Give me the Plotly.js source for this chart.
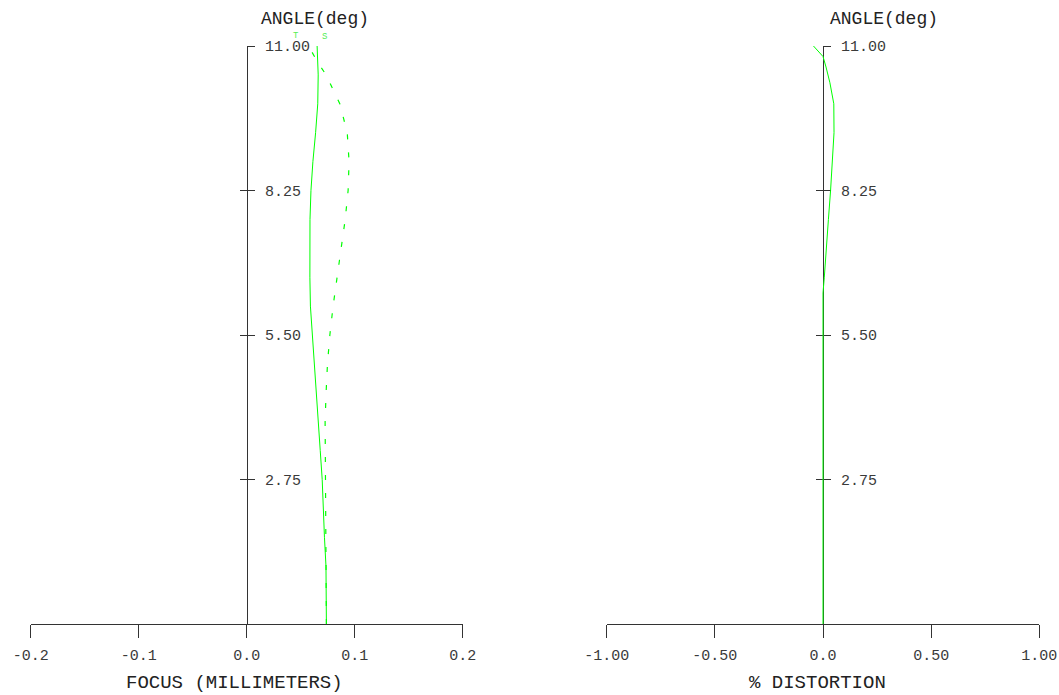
<!DOCTYPE html>
<html>
<head>
<meta charset="utf-8">
<script src="https://cdn.plot.ly/plotly-3.0.1.min.js"></script>
<style>
html,body{margin:0;padding:0;background:#fff;}
#chart{width:1059px;height:695px;}
</style>
</head>
<body>
<div id="chart"></div>
<script>
// Field angle samples (deg)
const angles = [0, 0.55, 1.1, 1.65, 2.2, 2.75, 3.3, 3.85, 4.4, 4.95, 5.5, 6.05, 6.6, 7.15, 7.7, 8.25, 8.8, 9.35, 9.9, 10.45, 10.7, 11];
// Tangential focus (mm)
const focusT = [0.0738, 0.0738, 0.0734, 0.0720, 0.0712, 0.0699, 0.0681, 0.0663, 0.0641, 0.0622, 0.0602, 0.0590, 0.0585, 0.0583, 0.0586, 0.0595, 0.0613, 0.0638, 0.0658, 0.0662, 0.0659, 0.0652];
// Sagittal focus (mm)
const focusS = [0.0738, 0.0736, 0.0733, 0.0729, 0.0725, 0.0724, 0.0724, 0.0726, 0.0735, 0.0748, 0.0770, 0.0800, 0.0837, 0.0878, 0.0912, 0.0939, 0.0948, 0.0931, 0.0862, 0.0735, 0.0655, 0.0572];
// Distortion (%)
const distAngles = [0, 0.55, 1.0, 1.1, 2.2, 3.3, 4.4, 5.5, 6.0, 6.3, 6.6, 7.15, 7.7, 8.25, 8.8, 9.35, 9.9, 10.3, 10.6, 10.8, 11];
const distortion = [0.000, 0.000, 0.000, 0.003, 0.003, 0.003, 0.003, 0.003, 0.002, 0.000, 0.006, 0.017, 0.025, 0.035, 0.044, 0.051, 0.050, 0.032, 0.014, 0.000, -0.044];

const yTickVals = [2.75, 5.5, 8.25, 11];
const yTickText = ['2.75', '5.50', '8.25', '11.00'];
const focusTickVals = [-0.2, -0.1, 0, 0.1, 0.2];
const focusTickText = ['-0.2', '-0.1', '0.0', '0.1', '0.2'];
const distTickVals = [-1, -0.5, 0, 0.5, 1];
const distTickText = ['-1.00', '-0.50', '0.0', '0.50', '1.00'];

const W = 1059, H = 695;
const GREEN = '#00ff00';
const AX = '#333333';
const FONT = '"Liberation Mono", "Courier New", monospace';
const px = v => v / W;
const py = v => 1 - v / H;

const yDom = [(H - 624) / H, (H - 46) / H];

const traces = [
  {x: focusT, y: angles, xaxis: 'x', yaxis: 'y', mode: 'lines', line: {color: GREEN, width: 1}, hoverinfo: 'skip', showlegend: false},
  {x: focusS, y: angles, xaxis: 'x', yaxis: 'y', mode: 'lines', line: {color: GREEN, width: 1.2, dash: '5px,13px'}, hoverinfo: 'skip', showlegend: false},
  {x: distortion, y: distAngles, xaxis: 'x2', yaxis: 'y2', mode: 'lines', line: {color: GREEN, width: 1}, hoverinfo: 'skip', showlegend: false},
  {x: [0], y: [0], xaxis: 'x', yaxis: 'y3', mode: 'markers', marker: {opacity: 0}, hoverinfo: 'skip', showlegend: false},
  {x: [0], y: [0], xaxis: 'x2', yaxis: 'y4', mode: 'markers', marker: {opacity: 0}, hoverinfo: 'skip', showlegend: false}
];

function xAxis(domain, range, vals, text) {
  return {
    domain: domain, range: range, anchor: 'y', fixedrange: true,
    showgrid: false, zeroline: false, showline: true, linecolor: AX, linewidth: 1,
    ticks: 'outside', ticklen: 13, tickwidth: 1, tickcolor: AX,
    tickvals: vals, ticktext: text, ticklabelstandoff: 4,
    tickfont: {family: FONT, size: 15, color: '#3a3a3a'}, layer: 'below traces'
  };
}
function yAxisMain(xa, pos) {
  return {
    domain: yDom, range: [0, 11], anchor: 'free', position: pos, side: 'right', fixedrange: true,
    showgrid: false, zeroline: false, showline: true, linecolor: AX, linewidth: 1,
    ticks: 'outside', ticklen: 7, tickwidth: 1, tickcolor: AX,
    tickvals: yTickVals, ticktext: yTickText, ticklabelstandoff: 7,
    tickfont: {family: FONT, size: 15, color: '#3a3a3a'}, layer: 'below traces'
  };
}
function yAxisInner(over, pos) {
  return {
    domain: yDom, range: [0, 11], overlaying: over, anchor: 'free', position: pos, side: 'right', fixedrange: true,
    showgrid: false, zeroline: false, showline: false,
    ticks: 'inside', ticklen: 7, tickwidth: 1, tickcolor: AX,
    tickvals: yTickVals, showticklabels: false, layer: 'below traces'
  };
}

const pos1 = px(247);
const pos2 = px(823);

const layout = {
  width: W, height: H,
  margin: {l: 0, r: 0, t: 0, b: 0},
  paper_bgcolor: '#ffffff', plot_bgcolor: 'rgba(0,0,0,0)',
  showlegend: false,
  xaxis: xAxis([px(30.7), px(462.7)], [-0.2, 0.2], focusTickVals, focusTickText),
  xaxis2: Object.assign(xAxis([px(606.7), px(1039.3)], [-1, 1], distTickVals, distTickText), {anchor: 'y2'}),
  yaxis: yAxisMain('x', pos1),
  yaxis2: yAxisMain('x2', pos2),
  yaxis3: yAxisInner('y', pos1),
  yaxis4: yAxisInner('y2', pos2),
  annotations: [
    {text: 'ANGLE(deg)', xref: 'paper', yref: 'paper', x: px(259), y: py(19), xanchor: 'left', yanchor: 'middle', showarrow: false, font: {family: FONT, size: 18, color: '#222'}},
    {text: 'ANGLE(deg)', xref: 'paper', yref: 'paper', x: px(828), y: py(19), xanchor: 'left', yanchor: 'middle', showarrow: false, font: {family: FONT, size: 18, color: '#222'}},
    {text: 'FOCUS (MILLIMETERS)', xref: 'paper', yref: 'paper', x: px(234.7), y: py(683), xanchor: 'center', yanchor: 'middle', showarrow: false, font: {family: FONT, size: 19, color: '#222'}},
    {text: '% DISTORTION', xref: 'paper', yref: 'paper', x: px(817.5), y: py(683), xanchor: 'center', yanchor: 'middle', showarrow: false, font: {family: FONT, size: 19, color: '#222'}},
    {text: 'T', xref: 'paper', yref: 'paper', x: px(295.5), y: py(36), xanchor: 'center', yanchor: 'middle', showarrow: false, font: {family: FONT, size: 9, color: '#55ee55'}},
    {text: 'S', xref: 'paper', yref: 'paper', x: px(324.5), y: py(37), xanchor: 'center', yanchor: 'middle', showarrow: false, font: {family: FONT, size: 9, color: '#55ee55'}}
  ]
};

Plotly.newPlot('chart', traces, layout, {staticPlot: true, displayModeBar: false});
</script>
</body>
</html>
